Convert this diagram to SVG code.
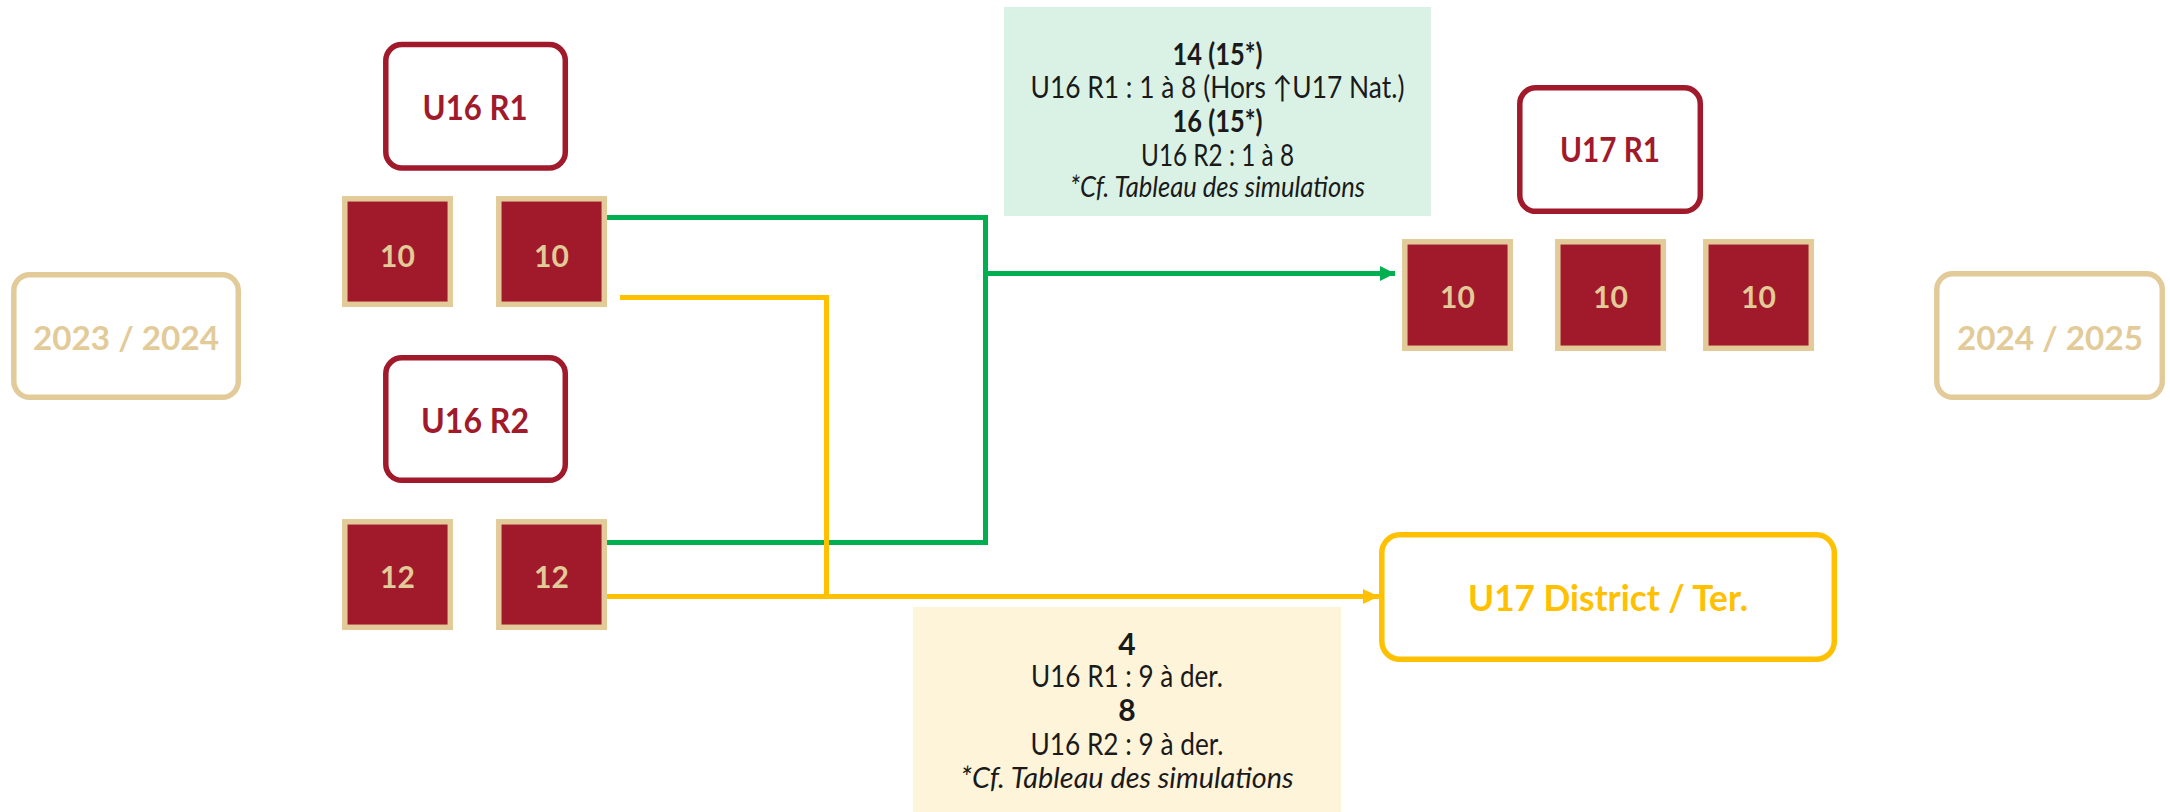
<svg xmlns="http://www.w3.org/2000/svg" width="2170" height="812" viewBox="0 0 2170 812">
<defs>
<style>
.t{font-family:Lato,"Liberation Sans",sans-serif;text-anchor:middle}
.hdr{fill:#FFFFFF;stroke:#A11A2B;stroke-width:5.5}
.hdrt{fill:#A11A2B;font-weight:bold;font-size:34px}
.sq{fill:#A11A2B;stroke:#E2CB98;stroke-width:5.5}
.sqt{fill:#E2CB98;font-weight:bold;font-size:30px}
.yr{fill:#FFFFFF;stroke:#E2CB98;stroke-width:5.5}
.yrt{fill:#E2CB98;font-weight:bold;font-size:33px}
.note{fill:#1a1a1a;font-size:30px}
.b{font-weight:bold}
.i{font-style:italic;font-size:29px}
.g{fill:none;stroke:#00B050;stroke-width:5}
.y{fill:none;stroke:#FFC000;stroke-width:5}
</style>
<marker id="ag" markerUnits="userSpaceOnUse" markerWidth="16" markerHeight="16" refX="15" refY="7.5" orient="auto"><path d="M0,0 L15,7.5 L0,15 Z" fill="#00B050"/></marker>
<marker id="ay" markerUnits="userSpaceOnUse" markerWidth="17" markerHeight="16" refX="16" refY="7.5" orient="auto"><path d="M0,0 L16,7.5 L0,15 Z" fill="#FFC000"/></marker>
</defs>
<rect width="2170" height="812" fill="#FFFFFF"/>
<g id="connectors">
<path class="g" d="M607,217.5 H985.5 V542.5 H607"/>
<path class="g" d="M985.5,273.5 H1395" marker-end="url(#ag)"/>
<path class="y" d="M620,297.5 H826.5 V596.5"/>
<path class="y" d="M607,596.5 H1379" marker-end="url(#ay)"/>
</g>
<g id="year-2023">
<rect class="yr" x="13.8" y="274.7" width="224.5" height="122.6" rx="16"/>
<text class="t yrt" x="126" y="350" textLength="186" lengthAdjust="spacingAndGlyphs">2023 / 2024</text>
</g>
<g id="year-2024">
<rect class="yr" x="1936.8" y="273.7" width="225.5" height="123.6" rx="16"/>
<text class="t yrt" x="2050" y="350" textLength="186" lengthAdjust="spacingAndGlyphs">2024 / 2025</text>
</g>
<g id="u16r1">
<rect class="hdr" x="385.8" y="44.5" width="179.5" height="123.5" rx="16"/>
<text class="t hdrt" x="475" y="120" textLength="105" lengthAdjust="spacingAndGlyphs">U16 R1</text>
</g>
<g id="u16r1-a">
<rect class="sq" x="344.8" y="198.8" width="105.5" height="105.5"/>
<text class="t sqt" x="397.5" y="267">10</text>
</g>
<g id="u16r1-b">
<rect class="sq" x="498.8" y="198.8" width="105.5" height="105.5"/>
<text class="t sqt" x="551.5" y="267">10</text>
</g>
<g id="u16r2">
<rect class="hdr" x="385.8" y="357.8" width="179.5" height="122.5" rx="16"/>
<text class="t hdrt" x="475" y="433" textLength="108" lengthAdjust="spacingAndGlyphs">U16 R2</text>
</g>
<g id="u16r2-a">
<rect class="sq" x="344.8" y="521.8" width="105.5" height="105.5"/>
<text class="t sqt" x="397.5" y="588">12</text>
</g>
<g id="u16r2-b">
<rect class="sq" x="498.8" y="521.8" width="105.5" height="105.5"/>
<text class="t sqt" x="551.5" y="588">12</text>
</g>
<g id="u17r1">
<rect class="hdr" x="1519.8" y="87.8" width="180.5" height="123.5" rx="16"/>
<text class="t hdrt" x="1610" y="162" textLength="100" lengthAdjust="spacingAndGlyphs">U17 R1</text>
</g>
<g id="u17r1-a">
<rect class="sq" x="1404.8" y="241.8" width="105.5" height="106.5"/>
<text class="t sqt" x="1457.5" y="308">10</text>
</g>
<g id="u17r1-b">
<rect class="sq" x="1557.8" y="241.8" width="105.5" height="106.5"/>
<text class="t sqt" x="1610.5" y="308">10</text>
</g>
<g id="u17r1-c">
<rect class="sq" x="1705.8" y="241.8" width="105.5" height="106.5"/>
<text class="t sqt" x="1758.5" y="308">10</text>
</g>
<g id="u17district">
<rect class="hdr" x="1381.8" y="534.8" width="452.5" height="124.5" rx="18" style="stroke:#FFC000"/>
<text class="t hdrt" x="1608" y="611" style="fill:#FFC000;font-size:36px" textLength="280" lengthAdjust="spacingAndGlyphs">U17 District / Ter.</text>
</g>
<g id="note-green">
<rect x="1004" y="7" width="427" height="209" fill="#DAF2E5"/>
<text class="t note b" x="1217.5" y="65" textLength="90" lengthAdjust="spacingAndGlyphs">14 (15*)</text>
<text class="t note" x="1217.5" y="98" textLength="374" lengthAdjust="spacingAndGlyphs">U16 R1 : 1 à 8 (Hors ↑U17 Nat.)</text>
<text class="t note b" x="1217.5" y="132" textLength="90" lengthAdjust="spacingAndGlyphs">16 (15*)</text>
<text class="t note" x="1217.5" y="166" textLength="153" lengthAdjust="spacingAndGlyphs">U16 R2 : 1 à 8</text>
<text class="t note i" x="1217.5" y="197" textLength="295" lengthAdjust="spacingAndGlyphs">*Cf. Tableau des simulations</text>
</g>
<g id="note-yellow">
<rect x="913" y="607" width="428" height="205" fill="#FEF4D9"/>
<text class="t note b" x="1127" y="655">4</text>
<text class="t note" x="1127" y="687" textLength="192" lengthAdjust="spacingAndGlyphs">U16 R1 : 9 à der.</text>
<text class="t note b" x="1127" y="721">8</text>
<text class="t note" x="1127" y="755" textLength="193" lengthAdjust="spacingAndGlyphs">U16 R2 : 9 à der.</text>
<text class="t note i" x="1127" y="788" textLength="333" lengthAdjust="spacingAndGlyphs">*Cf. Tableau des simulations</text>
</g>
</svg>
